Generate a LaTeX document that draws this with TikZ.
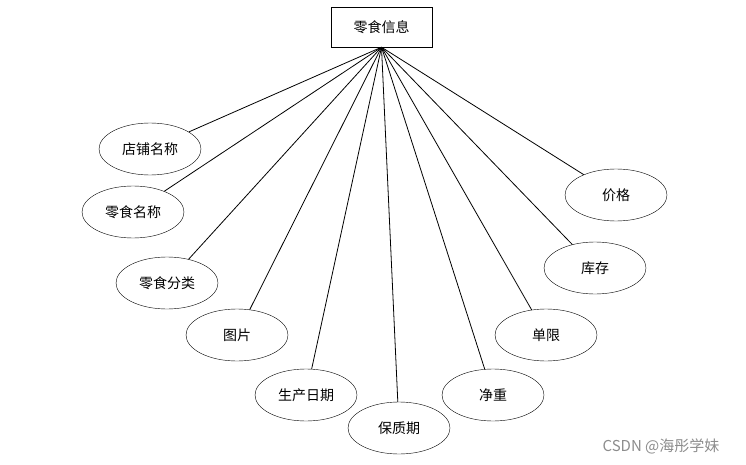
\documentclass[tikz,border=0pt]{standalone}
\usepackage{fontspec}
\setmainfont{Noto Sans CJK SC}
\usetikzlibrary{shapes.geometric}

\tikzset{attr/.style={shape=ellipse,draw=black,minimum width=102pt,minimum height=52pt,inner sep=0pt,font=\fontsize{14}{16}\selectfont}}

\begin{document}
\begin{tikzpicture}[x=1pt,y=-1pt]
        \useasboundingbox (0,0) rectangle (746,465);
        \node[shape=rectangle,draw=black,minimum width=101pt,minimum height=40pt,font=\fontsize{14}{16}\selectfont] (info) at (381.5,27) {零食信息};
        \node[attr] (shop) at (150,149) {店铺名称};
        \node[attr] (name) at (133,212) {零食名称};
        \node[attr] (kind) at (167,283) {零食分类};
        \node[attr] (pic) at (237,335) {图片};
        \node[attr] (date) at (306,395) {生产日期};
        \node[attr] (life) at (399,428) {保质期};
        \node[attr] (weight) at (493,395) {净重};
        \node[attr] (limit) at (546,335) {单限};
        \node[attr] (stock) at (595,268) {库存};
        \node[attr] (price) at (616,195) {价格};
        \node[text=black!45,font=\fontsize{15}{17}\selectfont] (mark) at (661,446) {CSDN @海彤学妹};
        \path [line width=0.8pt] (info.south) edge (shop);
        \path [line width=0.8pt] (info.south) edge (name);
        \path [line width=0.8pt] (info.south) edge (kind);
        \path [line width=0.8pt] (info.south) edge (pic);
        \path [line width=0.8pt] (info.south) edge (date);
        \path [line width=0.8pt] (info.south) edge (life);
        \path [line width=0.8pt] (info.south) edge (weight);
        \path [line width=0.8pt] (info.south) edge (limit);
        \path [line width=0.8pt] (info.south) edge (stock);
        \path [line width=0.8pt] (info.south) edge (price);
    \end{tikzpicture}
\end{document}
